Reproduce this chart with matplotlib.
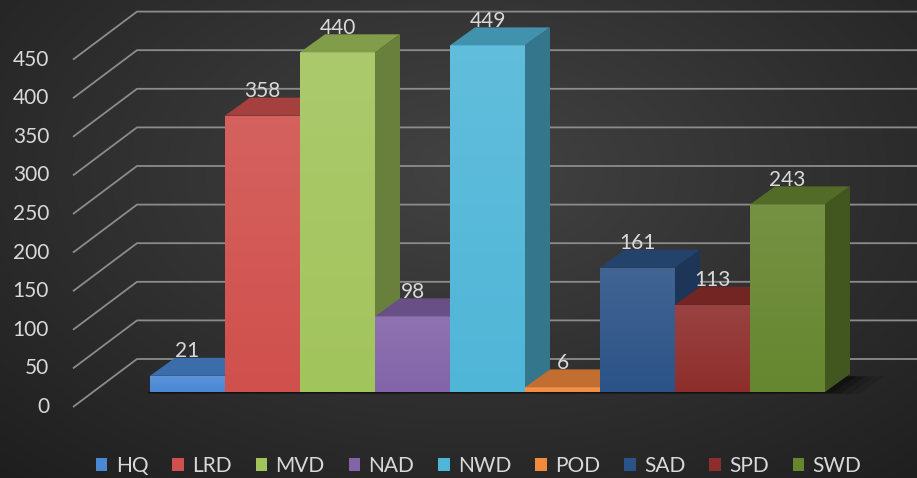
"""Excel-style pseudo-3D column chart: count per division."""

import matplotlib
matplotlib.use("Agg")
import matplotlib.pyplot as plt
import numpy as np
from matplotlib.colors import to_rgb
from matplotlib.patches import Patch, Polygon

divisions = ["HQ", "LRD", "MVD", "NAD", "NWD", "POD", "SAD", "SPD", "SWD"]
counts = [21, 358, 440, 98, 449, 6, 161, 113, 243]
colors = ["#4a88d4", "#d0504d", "#a2c45c", "#8264a8", "#50b6d8",
          "#f28a3c", "#2c5387", "#8e2e2c", "#66862f"]
yticks = [0, 50, 100, 150, 200, 250, 300, 350, 400, 450]

TXT = "#d9d9d9"
FONT = "Lato"

# oblique projection (data units): bar depth and box depth
BAR_DX, BAR_DY = 25 / 75, 18 / 0.772
FX, FY = -20 / 75, -15 / 0.772      # front edge of the box
BX, BY = 44 / 75, 33 / 0.772        # back wall
X0 = -0.76                          # left wall


def shade(c, f):
    r, g, b = to_rgb(c)
    return (r * f, g * f, b * f)


def lighten(c, f):
    r, g, b = to_rgb(c)
    return (r + (1 - r) * f, g + (1 - g) * f, b + (1 - b) * f)


fig = plt.figure(figsize=(9.17, 4.78), dpi=100)

# radial dark background
bg = fig.add_axes([0, 0, 1, 1], zorder=0)
yy, xx = np.mgrid[0:478, 0:917]
rr = np.sqrt(((xx - 470) / 700) ** 2 + ((yy - 170) / 420) ** 2)
rr = np.clip(rr, 0, 1)
c_in, c_out = np.array(to_rgb("#434343")), np.array(to_rgb("#1e1e1e"))
img = c_in[None, None, :] * (1 - rr[..., None]) + c_out[None, None, :] * rr[..., None]
bg.imshow(img, aspect="auto", extent=(0, 1, 0, 1))
bg.axis("off")

ax = fig.add_axes([0, 0, 1, 1], zorder=1)
ax.patch.set_alpha(0)
ax.axis("off")
XLIM = (-2.0, 767 / 75)
YLIM = ((392 - 478) / 0.772, 392 / 0.772)

# gridlines: left wall diagonals + back wall horizontals
for v in yticks:
    ax.plot([X0 + FX, X0 + BX, XLIM[1]], [v + FY, v + BY, v + BY],
            color="#8c8c8c", lw=1.3, zorder=1, solid_capstyle="butt")
    ax.text(-1.345, v + FY, f"{v}", ha="right", va="center",
            color=TXT, fontsize=15, family=FONT)

# soft floor shadow, mostly behind and right of the bars
n = len(counts)
for k, a in enumerate([0.10, 0.14, 0.2, 0.28]):
    grow = 0.45 - k * 0.12
    xa, xb = -0.04, n + grow
    ax.add_patch(Polygon([(xa, -1 - grow * 4), (xb, -1 - grow * 4),
                          (xb + BAR_DX, BAR_DY - 3), (xa + BAR_DX, BAR_DY - 3)],
                         closed=True, fc="black", ec="none", alpha=a, zorder=2))

# bars, left to right so each covers the side of its left neighbour
bars = ax.bar(np.arange(n), counts, width=1.0, align="edge",
              color=colors, linewidth=0)
grad = np.linspace(0, 1, 64)
for i, (b, v, c) in enumerate(zip(bars, counts, colors)):
    z = 10 + i
    b.set_zorder(z)
    x = b.get_x()
    # front face gradient, a bit lighter at the top
    cols = np.array([lighten(c, 0.10 * t) for t in grad])
    im = ax.imshow(cols[::-1][:, None, :], extent=(x, x + 1, 0, v),
                   aspect="auto", zorder=z + 0.1, interpolation="bilinear")
    im.set_clip_path(b)
    # top face
    ax.add_patch(Polygon([(x, v), (x + 1, v), (x + 1 + BAR_DX, v + BAR_DY),
                          (x + BAR_DX, v + BAR_DY)],
                         closed=True, fc=shade(c, 0.8), ec="none", zorder=z + 0.2))
    # right side face
    ax.add_patch(Polygon([(x + 1, 0), (x + 1 + BAR_DX, BAR_DY),
                          (x + 1 + BAR_DX, v + BAR_DY), (x + 1, v)],
                         closed=True, fc=shade(c, 0.65), ec="none", zorder=z + 0.2))

ax.set_xlim(*XLIM)
ax.set_ylim(*YLIM)

for i, v in enumerate(counts):
    ax.text(i + 0.5, v + BAR_DY + 1, f"{v}", ha="center", va="baseline",
            color=TXT, fontsize=15, family=FONT, zorder=40)

handles = [Patch(fc=c, ec="none", label=d) for d, c in zip(divisions, colors)]
ax.legend(handles=handles, loc="center", bbox_to_anchor=(0.522, 0.025),
          ncol=n, frameon=False, prop={"family": FONT, "size": 15},
          labelcolor=TXT, handlelength=0.55, handleheight=0.55,
          handletextpad=0.4, columnspacing=1.15, borderaxespad=0)

fig.savefig("out.png", dpi=100)
